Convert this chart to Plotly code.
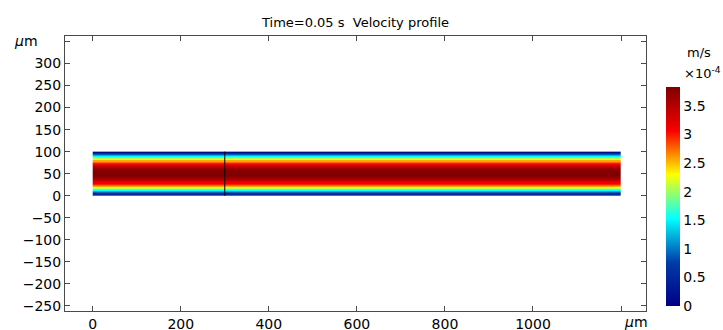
import plotly.graph_objects as go

# ---- data ----
channel_x_edges = [0, 1200]            # µm, channel length
boundary_x = [300]                     # µm, internal domain boundary
channel_height = 100                   # µm
# half-profile of velocity (x1e-4 m/s) at cell centres y = 1.25, 3.75, ... 48.75 µm
y_half = [1.25, 3.75, 6.25, 8.75, 11.25, 13.75, 16.25, 18.75, 21.25, 23.75,
          26.25, 28.75, 31.25, 33.75, 36.25, 38.75, 41.25, 43.75, 46.25, 48.75]
u_half = [0.19, 0.55, 0.90, 1.22, 1.53, 1.82, 2.09, 2.33, 2.56, 2.77,
          2.97, 3.14, 3.29, 3.43, 3.54, 3.64, 3.71, 3.77, 3.81, 3.83]
u_max = 3.83
cbar_ticks = [0, 0.5, 1, 1.5, 2, 2.5, 3, 3.5]
x_ticks = [0, 200, 400, 600, 800, 1000]
x_extra_ticks = [1200]
y_ticks = [-250, -200, -150, -100, -50, 0, 50, 100, 150, 200, 250, 300]
y_extra_ticks = [350]

# full profile (mirror of half profile)
u_full = u_half + u_half[::-1]
step = 2 * y_half[0]
y_edges = [i * step for i in range(len(u_full) + 1)]
z = [[u] for u in u_full]

font = "DejaVu Sans"
axcol = "#4a4a4a"

fig = go.Figure()
fig.add_trace(go.Heatmap(
    x=channel_x_edges, y=y_edges, z=z,
    zmin=0, zmax=u_max, colorscale="Jet",
    colorbar=dict(
        x=1.0344, xanchor="left", xref="paper",
        y=0.018, yanchor="bottom", len=0.7955, lenmode="fraction",
        thickness=14, outlinewidth=0, xpad=0, ypad=0,
        tickvals=cbar_ticks, ticks="",
        tickfont=dict(family=font, size=14, color="black"),
    ),
    showscale=True, hoverinfo="skip",
))
for bx in boundary_x:
    fig.add_trace(go.Scatter(x=[bx, bx], y=[0, channel_height], mode="lines",
                             line=dict(color="black", width=1),
                             showlegend=False, hoverinfo="skip"))

axis_common = dict(showline=True, linecolor=axcol, linewidth=1, mirror="ticks",
                   ticks="inside", ticklen=5, tickcolor=axcol, tickwidth=1,
                   showgrid=False, zeroline=False, automargin=False,
                   tickfont=dict(family=font, size=14, color="black"))

fig.update_layout(
    width=723, height=330,
    margin=dict(l=65, r=77, t=36, b=19, autoexpand=False),
    paper_bgcolor="white", plot_bgcolor="white",
    showlegend=False,
    title=dict(text="Time=0.05 s  Velocity profile", x=0.5, xanchor="center",
               y=1 - 22.5 / 330, yanchor="middle", xref="paper",
               font=dict(family=font, size=13, color="black")),
    xaxis=dict(range=[-62.9, 1256.7], tickvals=x_ticks,
               minor=dict(tickvals=x_extra_ticks, ticks="inside", ticklen=5, tickcolor=axcol, showgrid=False),
               **axis_common),
    yaxis=dict(range=[-261.6, 362.4], tickvals=y_ticks,
               minor=dict(tickvals=y_extra_ticks, ticks="inside", ticklen=5, tickcolor=axcol, showgrid=False),
               **axis_common),
    annotations=[
        dict(text="<i>μ</i>m", xref="paper", yref="paper", x=(12 - 65) / 581, y=(311 - 41) / 275,
             xanchor="left", yanchor="middle", showarrow=False,
             font=dict(family=font, size=14, color="black")),
        dict(text="<i>μ</i>m", xref="paper", yref="paper", x=(622 - 65) / 581, y=(311 - 322) / 275,
             xanchor="left", yanchor="middle", showarrow=False,
             font=dict(family=font, size=14, color="black")),
        dict(text="m/s", xref="paper", yref="paper", x=(699 - 65) / 581, y=(311 - 53) / 275,
             xanchor="center", yanchor="middle", showarrow=False,
             font=dict(family=font, size=13, color="black")),
        dict(text="×10<sup>-4</sup>", xref="paper", yref="paper", x=(682 - 65) / 581, y=(311 - 73) / 275,
             xanchor="left", yanchor="middle", showarrow=False,
             font=dict(family=font, size=13, color="black")),
    ],
)

fig.write_html("out.html")
